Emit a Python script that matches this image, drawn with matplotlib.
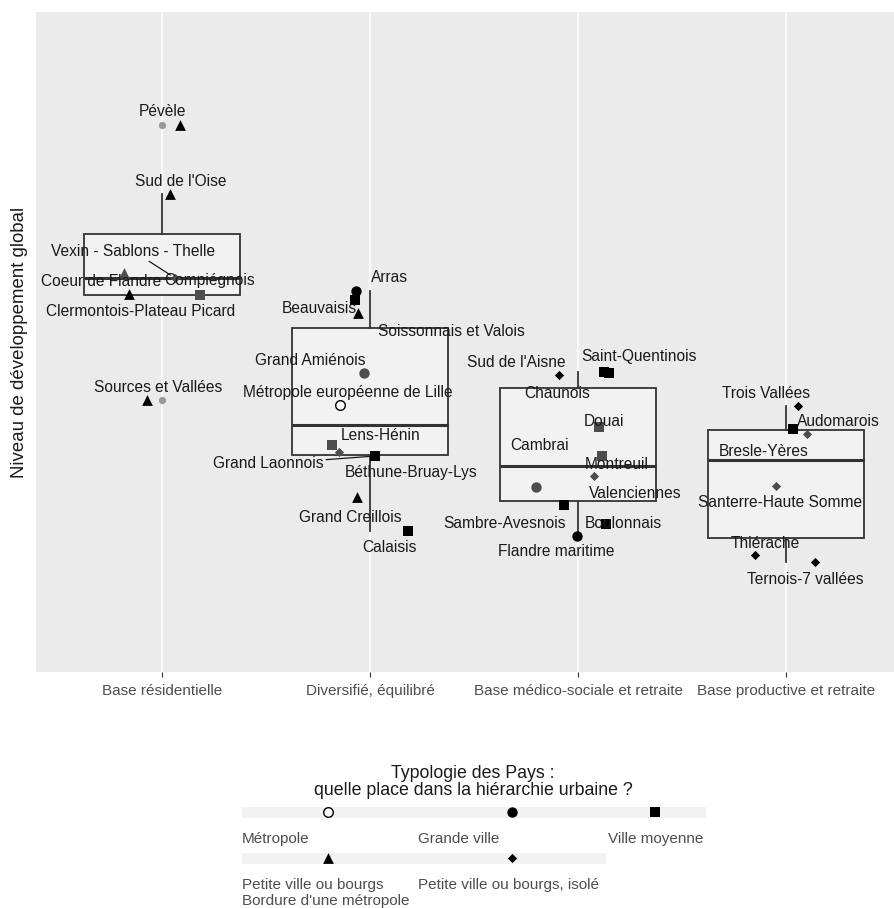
import matplotlib
matplotlib.use("Agg")
import matplotlib.pyplot as plt
from matplotlib.patches import Rectangle
from matplotlib import cbook

plt.rcParams['font.family'] = ['Liberation Sans', 'DejaVu Sans']

# categories (x axis)
categories = ["Base résidentielle", "Diversifié, équilibré",
              "Base médico-sociale et retraite", "Base productive et retraite"]

# one entry per Pays
noms = ["Pévèle", "Sud de l'Oise", "Vexin - Sablons - Thelle", "Coeur de Flandre",
        "Compiégnois", "Clermontois-Plateau Picard", "Sources et Vallées",
        "Arras", "Beauvaisis", "Soissonnais et Valois", "Grand Amiénois",
        "Métropole européenne de Lille", "Lens-Hénin", "Béthune-Bruay-Lys",
        "Grand Laonnois", "Grand Creillois", "Calaisis",
        "Sud de l'Aisne", "Saint-Quentinois", "Chaunois", "Douai", "Cambrai",
        "Montreuil", "Valenciennes", "Sambre-Avesnois", "Boulonnais", "Flandre maritime",
        "Trois Vallées", "Audomarois", "Bresle-Yères", "Santerre-Haute Somme",
        "Thiérache", "Ternois-7 vallées"]
groupe = [0] * 7 + [1] * 10 + [2] * 10 + [3] * 6
niveau = [5.47, 4.78, 3.94, 3.99, 3.77, 3.78, 2.72,
          3.81, 3.72, 3.59, 2.99, 2.67, 2.27, 2.20, 2.16, 1.75, 1.41,
          2.97, 3.00, 2.99, 2.45, 1.85, 2.16, 1.96, 1.67, 1.48, 1.36,
          2.66, 2.43, 2.38, 1.86, 1.17, 1.10]
typo = ["bordure", "bordure", "isole", "bordure", "moyenne", "bordure", "bordure",
        "grande", "moyenne", "bordure", "grande", "metro", "moyenne", "isole",
        "moyenne", "bordure", "moyenne",
        "isole", "moyenne", "moyenne", "moyenne", "grande", "moyenne", "isole",
        "moyenne", "moyenne", "grande",
        "isole", "moyenne", "isole", "isole", "isole", "isole"]
teinte = ["noir", "noir", "gris", "gris", "gris", "noir", "noir",
          "noir", "noir", "noir", "gris", "noir", "gris", "gris", "noir", "noir", "noir",
          "noir", "noir", "noir", "gris", "gris", "gris", "gris", "noir", "noir", "noir",
          "noir", "noir", "gris", "gris", "noir", "noir"]
# horizontal jitter as drawn in the picture
jitter = [0.087, 0.038, 0.063, -0.183, 0.183, -0.159, -0.072,
          -0.067, -0.072, -0.058, -0.029, -0.144, -0.183, -0.149, 0.024, -0.063, 0.183,
          -0.091, 0.125, 0.149, 0.101, -0.202, 0.115, 0.077, -0.067, 0.135, -0.005,
          0.058, 0.034, 0.101, -0.048, -0.149, 0.139]
# repelled label offsets (data units)
lab_dx = [-0.087, 0.053, -0.202, -0.111, 0.048, 0.058, 0.053,
          0.163, -0.173, 0.447, -0.260, 0.038, 0.236, 0.346, -0.514, -0.034, -0.091,
          -0.207, 0.168, -0.250, 0.024, 0.019, 0.072, 0.197, -0.284, 0.082, -0.101,
          -0.154, 0.216, -0.207, 0.019, 0.048, -0.048]
lab_dy = [0.14, 0.12, 0.27, -0.08, 0.15, -0.18, 0.12,
          0.13, -0.09, -0.19, 0.12, 0.12, 0.10, -0.20, -0.08, -0.20, -0.17,
          0.12, 0.15, -0.20, 0.05, 0.41, -0.09, -0.17, -0.18, 0.01, -0.16,
          0.12, 0.07, -0.17, -0.17, 0.12, -0.17]
segment = ["Vexin - Sablons - Thelle", "Grand Laonnois"]

types = ["metro", "grande", "moyenne", "bordure", "isole"]
types_labels = ["Métropole", "Grande ville", "Ville moyenne",
                "Petite ville ou bourgs\nBordure d'une métropole",
                "Petite ville ou bourgs, isolé"]

marqueurs = {"metro": ("o", 48), "grande": ("o", 56), "moyenne": ("s", 46),
             "bordure": ("^", 60), "isole": ("D", 22)}
couleurs = {"noir": "#000000", "gris": "#4D4D4D"}

W, H = 894, 908
fig = plt.figure(figsize=(W / 100, H / 100), dpi=100)
ax = fig.add_axes([36 / W, (H - 672) / H, (W - 36) / W, (672 - 12) / H])
ax.set_facecolor("#EBEBEB")
for s in ax.spines.values():
    s.set_visible(False)

xpos = list(range(1, len(categories) + 1))
for x in xpos:
    ax.axvline(x, color="white", lw=1.1, zorder=0)

# boxplots computed from the values
stats = []
for g in range(len(categories)):
    vals = [v for v, gg in zip(niveau, groupe) if gg == g]
    stats.append(cbook.boxplot_stats(vals, whis=1.5)[0])
ax.bxp(stats, positions=xpos, widths=0.75, patch_artist=True, showcaps=False,
       boxprops=dict(facecolor="#F2F2F2", edgecolor="#333333", lw=1.3),
       medianprops=dict(color="#333333", lw=2.2),
       whiskerprops=dict(color="#333333", lw=1.3),
       flierprops=dict(marker="o", markersize=4.2, markerfacecolor="#999999",
                       markeredgecolor="#999999"),
       zorder=2)

# points
for n, g, v, t, c, j, dx, dy in zip(noms, groupe, niveau, typo, teinte, jitter, lab_dx, lab_dy):
    x = xpos[g] + j
    m, sz = marqueurs[t]
    col = couleurs[c]
    if t == "metro":
        ax.scatter(x, v, marker=m, s=sz, facecolor="white", edgecolor=col, lw=1.0, zorder=3)
    else:
        ax.scatter(x, v, marker=m, s=sz, color=col, lw=0, zorder=3)
    if n in segment:
        ax.annotate(n, xy=(x, v), xytext=(x + dx, v + dy), ha="center", va="center",
                    fontsize=11.2, color="#1A1A1A", zorder=4,
                    arrowprops=dict(arrowstyle="-", color="#1A1A1A", lw=0.9,
                                    shrinkA=0, shrinkB=4))
    else:
        ax.text(x + dx, v + dy, n, ha="center", va="center", fontsize=11.2,
                color="#1A1A1A", zorder=4)

ax.set_xlim(1 + (36 - 162) / 208, 1 + (W - 162) / 208)
ax.set_ylim(0, 6.60)
ax.set_yticks([])
ax.set_xticks(xpos)
ax.set_xticklabels(categories, fontsize=11, color="#4D4D4D")
ax.tick_params(axis="x", length=3.5, color="#333333", pad=5)
ax.set_ylabel("Niveau de développement global", fontsize=13.4, color="#1A1A1A", labelpad=6)

# legend drawn in pixel coordinates
lg = fig.add_axes([0, 0, 1, 1], facecolor="none")
lg.set_xlim(0, W)
lg.set_ylim(H, 0)
lg.axis("off")
lg.text(473, 782, "Typologie des Pays :\nquelle place dans la hiérarchie urbaine ?",
        ha="center", va="center", fontsize=12.8, color="#1A1A1A", linespacing=0.95)
lg.add_patch(Rectangle((242, 807), 464, 11, color="#F2F2F2", lw=0))
lg.add_patch(Rectangle((242, 853), 364, 11, color="#F2F2F2", lw=0))
col_x = [(242, 328), (418, 512), (608, 655), (242, 328), (418, 512)]
row_y = [812, 812, 812, 858, 858]
for t, lab, (lx, mx), ry in zip(types, types_labels, col_x, row_y):
    m, sz = marqueurs[t]
    if t == "metro":
        lg.scatter(mx, ry, marker=m, s=sz, facecolor="white", edgecolor="black", lw=1.0)
    else:
        lg.scatter(mx, ry, marker=m, s=sz, color="black", lw=0)
    lg.text(lx, ry + 20, lab, ha="left", va="top", fontsize=11, color="#4D4D4D",
            linespacing=1.15)

fig.savefig("out.png", dpi=100)
